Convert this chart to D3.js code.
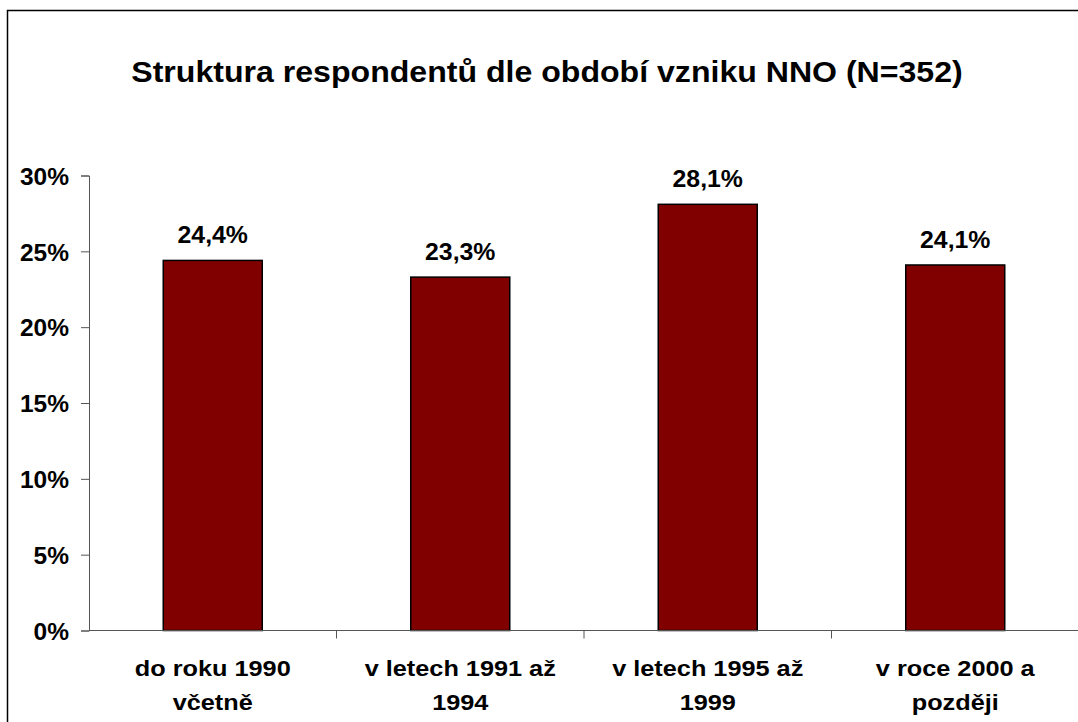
<!DOCTYPE html>
<html>
<head>
<meta charset="utf-8">
<script src="https://cdn.jsdelivr.net/npm/d3@7"></script>
<style>
  body { margin: 0; background: #fff; }
  text { font-family: "Liberation Sans", Arial, sans-serif; font-weight: bold; fill: #000; }
</style>
</head>
<body>
<div id="chart"></div>
<script>
const categories = [
  ['do roku 1990', 'včetně'],
  ['v letech 1991 až', '1994'],
  ['v letech 1995 až', '1999'],
  ['v roce 2000 a', 'později']
];
const values = [24.4, 23.3, 28.1, 24.1];
const yTicks = [0, 5, 10, 15, 20, 25, 30];
const title = 'Struktura respondentů dle období vzniku NNO (N=352)';

const width = 1078, height = 722;
const margins = { top: 175.5, right: -1, bottom: 91.5, left: 89 };

const svg = d3.select('#chart')
  .append('svg')
  .attr('width', width)
  .attr('height', height);

// frame
svg.append('rect')
  .attr('x', 7.5).attr('y', 10.5)
  .attr('width', width + 10).attr('height', height + 10)
  .attr('fill', 'none').attr('stroke', '#000').attr('stroke-width', 1.5);

svg.append('text')
  .attr('transform', 'translate(547,82) scale(1.07,1)')
  .attr('text-anchor', 'middle')
  .style('font-size', '30px')
  .text(title);

const x = d3.scaleBand()
  .domain(d3.range(categories.length))
  .range([margins.left, width - margins.right])
  .paddingInner(0.6)
  .paddingOuter(0.3);

const y = d3.scaleLinear()
  .domain([0, 30])
  .range([height - margins.bottom, margins.top]);

// y axis
const yAxis = svg.append('g')
  .attr('transform', `translate(${margins.left},0)`)
  .call(d3.axisLeft(y).tickValues(yTicks).tickSize(8).tickPadding(12).tickFormat(d => d + '%'));
yAxis.select('.domain').attr('stroke', '#555').attr('stroke-width', 1);
yAxis.selectAll('.tick line').attr('stroke', '#555');
yAxis.selectAll('.tick text').style('font-size', '24.5px').attr('dy', '0.36em');

// bars
svg.append('g')
  .selectAll('rect')
  .data(values)
  .join('rect')
  .attr('x', (d, i) => x(i))
  .attr('y', d => y(d))
  .attr('width', x.bandwidth())
  .attr('height', d => y(0) - y(d))
  .attr('fill', '#800000')
  .attr('stroke', '#000')
  .attr('stroke-width', 1.5);

// value labels
svg.append('g')
  .selectAll('text')
  .data(values)
  .join('text')
  .attr('transform', (d, i) => `translate(${x(i) + x.bandwidth() / 2},${y(d) - 17}) scale(1.08,1)`)
  .attr('text-anchor', 'middle')
  .style('font-size', '23px')
  .text(d => d.toFixed(1).replace('.', ',') + '%');

// x axis
const xAxis = svg.append('g').attr('class', 'x-axis');
xAxis.append('line')
  .attr('x1', margins.left).attr('x2', width)
  .attr('y1', y(0)).attr('y2', y(0))
  .attr('stroke', '#555');
const step = x.step();
d3.range(1, categories.length).forEach(i => {
  const tx = margins.left + i * step;
  xAxis.append('line')
    .attr('x1', tx).attr('x2', tx)
    .attr('y1', y(0)).attr('y2', y(0) + 8)
    .attr('stroke', '#555');
});

categories.forEach((lines, i) => {
  lines.forEach((line, j) => {
    xAxis.append('text')
      .attr('transform', `translate(${x(i) + x.bandwidth() / 2},${y(0) + 45.5 + j * 34}) scale(1.15,1)`)
      .attr('text-anchor', 'middle')
      .style('font-size', '22px')
      .text(line);
  });
});
</script>
</body>
</html>
